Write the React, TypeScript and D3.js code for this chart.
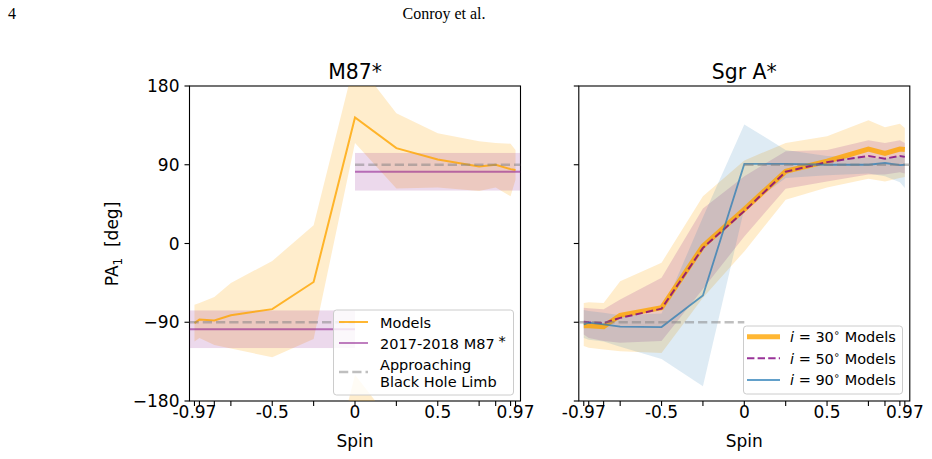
import React from 'react';
import * as d3 from 'd3';

// ---------- data ----------
const spins = [-0.97, -0.94, -0.85, -0.75, -0.5, -0.25, 0, 0.25, 0.5, 0.75, 0.85, 0.94, 0.97];
const xTickLabels = ['-0.97', '', '', '', '-0.5', '', '0', '', '0.5', '', '', '', '0.97'];
const yTicks = [-180, -90, 0, 90, 180];
const yTickLabels = ['\u2212180', '\u221290', '0', '90', '180'];

// M87* models
const m87Median = [-91, -87, -88, -82, -75, -44, 144, 109, 96, 88, 90, 85, 84];
const m87Upper = [-70, -68, -61, -45, -20, 21, 210, 149, 126, 117, 115, 114, 107];
const m87Lower = [-112, -108, -116, -120, -130, -109, 115, 63, 64, 60, 64, 54, 73];
// observed M87* PA (2017-2018) and its +180 image
const m87ObsPA = -98;
const m87ObsErr = 21.5;
const limbPA = -90;

// Sgr A* models
const i30Median = [-94, -94, -95, -82, -73.5, -3, 39, 82.5, 94, 108, 103, 108, 107.5];
const i30Upper = [-68, -67, -68, -43, -22, 54, 95, 115, 122.5, 141, 133, 137, 132];
const i30Lower = [-117, -119, -121, -123, -125, -62, -9, 50, 64, 74, 71, 75, 76];
const i50Median = [-89.5, -90, -91, -85, -74.5, -5, 37, 82, 93, 100, 97, 100, 99];
const i50Upper = [-73.5, -74, -75, -64, -39, 40, 77, 105.5, 107, 118, 115, 118, 115];
const i50Lower = [-104, -108, -111.5, -113.5, -111.5, -52, 8, 62.5, 71, 79, 79, 81.5, 80];
const i90Median = [-92.5, -90.5, -92.5, -95, -95.5, -59.5, 91, 91, 90, 90, 92, 89.5, 90];
const i90Upper = [-76, -77, -79, -82, -80, 30, 136, 107, 100, 98, 97, 100, 102];
const i90Lower = [-108, -110, -112, -118, -132, -163, 40, 75, 78, 80, 77, 70, 63.5];

// ---------- layout ----------
const W = 932;
const H = 459;
const TOP = 86;
const BOTTOM = 401;
const FONT = 'DejaVu Sans, sans-serif';

const y = d3.scaleLinear().domain([-180, 180]).range([BOTTOM, TOP]);

const ORANGE = '#ffa500';
const PURPLE = '#800080';
const BLUE = '#1f77b4';
const GREY = '#808080';

function band(x: d3.ScaleLinear<number, number>, lo: number[], hi: number[], shift = 0) {
  return d3
    .area<number>()
    .x((_, i) => x(spins[i]))
    .y0((_, i) => y(lo[i] + shift))
    .y1((_, i) => y(hi[i] + shift))(spins) as string;
}

function line(x: d3.ScaleLinear<number, number>, v: number[]) {
  return d3
    .line<number>()
    .x((_, i) => x(spins[i]))
    .y((_, i) => y(v[i]))(spins) as string;
}

function Frame({ x, id, title, yLabels }: { x: d3.ScaleLinear<number, number>; id: string; title: string; yLabels: boolean }) {
  const [x0, x1] = x.range();
  return (
    <g>
      <rect x={x0} y={TOP} width={x1 - x0} height={BOTTOM - TOP} fill="none" stroke="#000" strokeWidth={1.1} />
      {spins.map((s, i) => (
        <g key={'xt' + i}>
          <line x1={x(s)} x2={x(s)} y1={BOTTOM} y2={BOTTOM + 5} stroke="#000" strokeWidth={1.1} />
          {xTickLabels[i] && (
            <text x={x(s)} y={418} textAnchor="middle" fontSize={17} fontFamily={FONT}>
              {xTickLabels[i]}
            </text>
          )}
        </g>
      ))}
      {yTicks.map((t, i) => (
        <g key={'yt' + i}>
          <line x1={x0 - 5} x2={x0} y1={y(t)} y2={y(t)} stroke="#000" strokeWidth={1.1} />
          {yLabels && (
            <text x={x0 - 10} y={y(t) + 6} textAnchor="end" fontSize={17} fontFamily={FONT}>
              {yTickLabels[i]}
            </text>
          )}
        </g>
      ))}
      <text x={(x0 + x1) / 2} y={447} textAnchor="middle" fontSize={17} fontFamily={FONT}>
        Spin
      </text>
      <text x={(x0 + x1) / 2} y={79} textAnchor="middle" fontSize={20.4} fontFamily={FONT}>
        {title}
      </text>
      <clipPath id={id}>
        <rect x={x0} y={TOP} width={x1 - x0} height={BOTTOM - TOP} />
      </clipPath>
    </g>
  );
}

export default function App() {
  const xL = d3.scaleLinear().domain([-1, 1]).range([189.5, 520.5]);
  const xR = d3.scaleLinear().domain([-1, 1]).range([578.8, 909.8]);

  const greyDash = { stroke: GREY, strokeOpacity: 0.5, strokeWidth: 2.5, strokeDasharray: '9.25,4', fill: 'none' };

  return (
    <svg width={W} height={H} style={{ position: 'absolute', left: 0, top: 0, background: '#fff' }}>
      <rect x={0} y={0} width={W} height={H} fill="#fff" />
      {/* page header */}
      <text x={8} y={19} fontSize={16} fontFamily="Liberation Serif, serif">4</text>
      <text x={444} y={19} textAnchor="middle" fontSize={16} fontFamily="Liberation Serif, serif">Conroy et al.</text>

      {/* ---------- M87* panel ---------- */}
      <Frame x={xL} id="clipL" title="M87*" yLabels={true} />
      <g clipPath="url(#clipL)">
        <path d={band(xL, m87Lower, m87Upper)} fill={ORANGE} fillOpacity={0.2} />
        <path d={band(xL, m87Lower, m87Upper, -360)} fill={ORANGE} fillOpacity={0.2} />
        <rect x={xL(-1)} width={xL(0) - xL(-1)} y={y(m87ObsPA + m87ObsErr)} height={y(m87ObsPA - m87ObsErr) - y(m87ObsPA + m87ObsErr)} fill={PURPLE} fillOpacity={0.15} />
        <rect x={xL(0)} width={xL(1) - xL(0)} y={y(m87ObsPA + 180 + m87ObsErr)} height={y(m87ObsPA + 180 - m87ObsErr) - y(m87ObsPA + 180 + m87ObsErr)} fill={PURPLE} fillOpacity={0.15} />
        <path d={line(xL, m87Median)} fill="none" stroke={ORANGE} strokeOpacity={0.8} strokeWidth={2} />
        <line x1={xL(-1)} x2={xL(0)} y1={y(m87ObsPA)} y2={y(m87ObsPA)} stroke={PURPLE} strokeOpacity={0.5} strokeWidth={2} />
        <line x1={xL(0)} x2={xL(1)} y1={y(m87ObsPA + 180)} y2={y(m87ObsPA + 180)} stroke={PURPLE} strokeOpacity={0.5} strokeWidth={2} />
        <line x1={xL(-1)} x2={xL(0)} y1={y(limbPA)} y2={y(limbPA)} {...greyDash} />
        <line x1={xL(0)} x2={xL(1)} y1={y(limbPA + 180)} y2={y(limbPA + 180)} {...greyDash} />
      </g>
      <text transform="translate(118,244) rotate(-90)" textAnchor="middle" fontSize={17} fontFamily={FONT} style={{ whiteSpace: 'pre' }}>
        PA<tspan fontSize={12} dy={4}>1</tspan><tspan dy={-4}>  [deg]</tspan>
      </text>

      {/* left legend */}
      <g fontFamily={FONT} fontSize={14.5}>
        <rect x={333.5} y={310} width={180} height={85} rx={3} fill="#fff" fillOpacity={0.8} stroke="#ccc" strokeWidth={1} />
        <line x1={339} x2={368} y1={322} y2={322} stroke={ORANGE} strokeOpacity={0.8} strokeWidth={2} />
        <text x={380} y={327.5}>Models</text>
        <line x1={339} x2={368} y1={343} y2={343} stroke={PURPLE} strokeOpacity={0.5} strokeWidth={2} />
        <text x={380} y={348.5}>2017-2018 M87<tspan dx={4} dy={-3}>*</tspan></text>
        <line x1={339} x2={368} y1={372} y2={372} {...greyDash} />
        <text x={380} y={369.5}>Approaching</text>
        <text x={380} y={386.5}>Black Hole Limb</text>
      </g>

      {/* ---------- Sgr A* panel ---------- */}
      <Frame x={xR} id="clipR" title="Sgr A*" yLabels={false} />
      <g clipPath="url(#clipR)">
        <path d={band(xR, i30Lower, i30Upper)} fill={ORANGE} fillOpacity={0.2} />
        <path d={band(xR, i50Lower, i50Upper)} fill={PURPLE} fillOpacity={0.15} />
        <path d={band(xR, i90Lower, i90Upper)} fill={BLUE} fillOpacity={0.15} />
        <path d={line(xR, i30Median)} fill="none" stroke={ORANGE} strokeOpacity={0.8} strokeWidth={5} />
        <path d={line(xR, i50Median)} fill="none" stroke={PURPLE} strokeOpacity={0.8} strokeWidth={2} strokeDasharray="7.4,3.2" />
        <path d={line(xR, i90Median)} fill="none" stroke={BLUE} strokeOpacity={0.7} strokeWidth={1.8} />
        <line x1={xR(-1)} x2={xR(0)} y1={y(limbPA)} y2={y(limbPA)} {...greyDash} />
        <line x1={xR(0)} x2={xR(1)} y1={y(limbPA + 180)} y2={y(limbPA + 180)} {...greyDash} />
      </g>

      {/* right legend */}
      <g fontFamily={FONT} fontSize={14.5} style={{ whiteSpace: 'pre' }}>
        <rect x={743.5} y={326} width={159} height={68} rx={3} fill="#fff" fillOpacity={0.8} stroke="#ccc" strokeWidth={1} />
        {[
          { v: '30', yy: 336.7, stroke: ORANGE, op: 0.8, w: 5, dash: undefined },
          { v: '50', yy: 358.3, stroke: PURPLE, op: 0.8, w: 2, dash: '7.4,3.2' },
          { v: '90', yy: 380, stroke: BLUE, op: 0.7, w: 1.8, dash: undefined },
        ].map((r) => (
          <g key={r.v}>
            <line x1={747} x2={780} y1={r.yy} y2={r.yy} stroke={r.stroke} strokeOpacity={r.op} strokeWidth={r.w} strokeDasharray={r.dash} />
            <text x={790} y={r.yy + 5.3}>
              <tspan fontStyle="italic">i</tspan>
              <tspan>{' = ' + r.v}</tspan>
              <tspan fontSize={10} dy={-6}>{'\u2218'}</tspan>
              <tspan dy={6}>{'  Models'}</tspan>
            </text>
          </g>
        ))}
      </g>
    </svg>
  );
}
